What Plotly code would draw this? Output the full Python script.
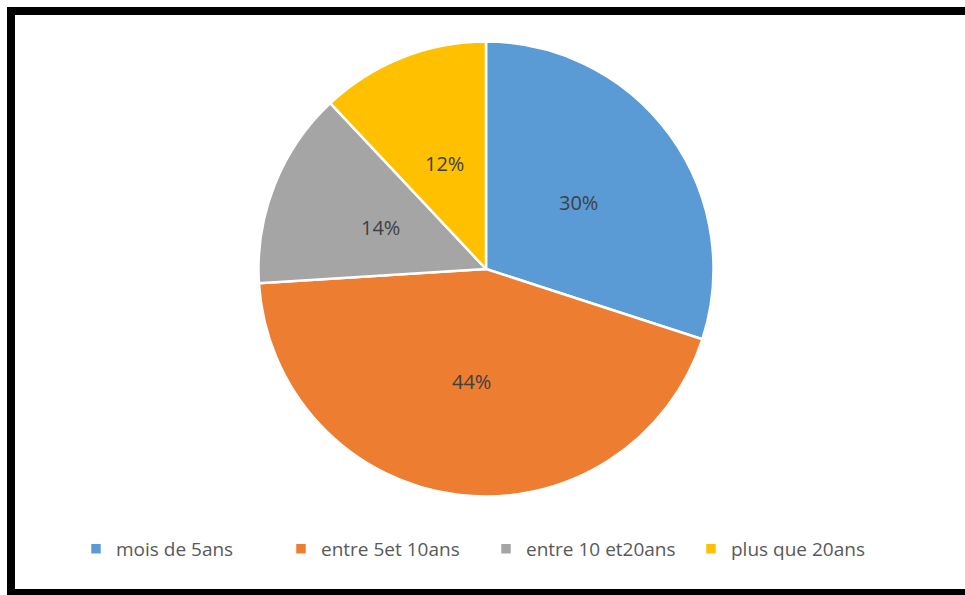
import math
import plotly.graph_objects as go

# Répartition par ancienneté
categories = ["mois de 5ans", "entre 5et 10ans", "entre 10 et20ans", "plus que 20ans"]
values = [30, 44, 14, 12]
colors = ["#5B9BD5", "#ED7D31", "#A5A5A5", "#FFC000"]

W, H = 965, 595
cx, cy, r = 486, 269, 227.5
FONT = "Open Sans, Lato, sans-serif"

fig = go.Figure(go.Pie(
    labels=categories,
    values=values,
    sort=False,
    direction="clockwise",
    rotation=0,
    marker=dict(colors=colors, line=dict(color="white", width=2.5)),
    textinfo="none",
    hoverinfo="label+percent",
    domain=dict(x=[(cx - r) / W, (cx + r) / W], y=[1 - (cy + r) / H, 1 - (cy - r) / H]),
))

# étiquettes de pourcentage placées à mi-rayon de chaque secteur
total = sum(values)
annotations = []
acc = 0
for v in values:
    mid = (acc + v / 2) / total * 2 * math.pi
    acc += v
    px = cx + 0.5 * r * math.sin(mid)
    py = cy - 0.5 * r * math.cos(mid)
    annotations.append(dict(
        x=px / W, y=1 - py / H, xref="paper", yref="paper",
        text=f"{round(v / total * 100)}%", showarrow=False,
        font=dict(family=FONT, size=20, color="#404040"),
        xanchor="center", yanchor="middle",
    ))

# cadre noir autour du graphique (ouvert à droite)
frame = [(7, 7, 15, 595), (7, 7, 965, 15), (7, 589, 965, 595)]
shapes = [
    dict(type="rect", xref="paper", yref="paper",
         x0=x0 / W, x1=x1 / W, y0=1 - y1 / H, y1=1 - y0 / H,
         fillcolor="black", line=dict(width=0), layer="above")
    for x0, y0, x1, y1 in frame
]

fig.update_layout(
    width=W, height=H,
    margin=dict(l=0, r=0, t=0, b=0),
    paper_bgcolor="white",
    plot_bgcolor="white",
    shapes=shapes,
    annotations=annotations,
    showlegend=True,
    legend=dict(
        orientation="h",
        x=486 / W, xanchor="center",
        y=1 - 549 / H, yanchor="middle",
        font=dict(family=FONT, size=19, color="#595959"),
        itemwidth=30,
        entrywidth=160,
        entrywidthmode="pixels",
        tracegroupgap=0,
    ),
)

# pas de barres de défilement autour du graphique
fig.write_html(
    "out.html",
    post_script="document.documentElement.style.overflow='hidden';"
                "document.body.style.overflow='hidden';document.body.style.margin='0';",
)
